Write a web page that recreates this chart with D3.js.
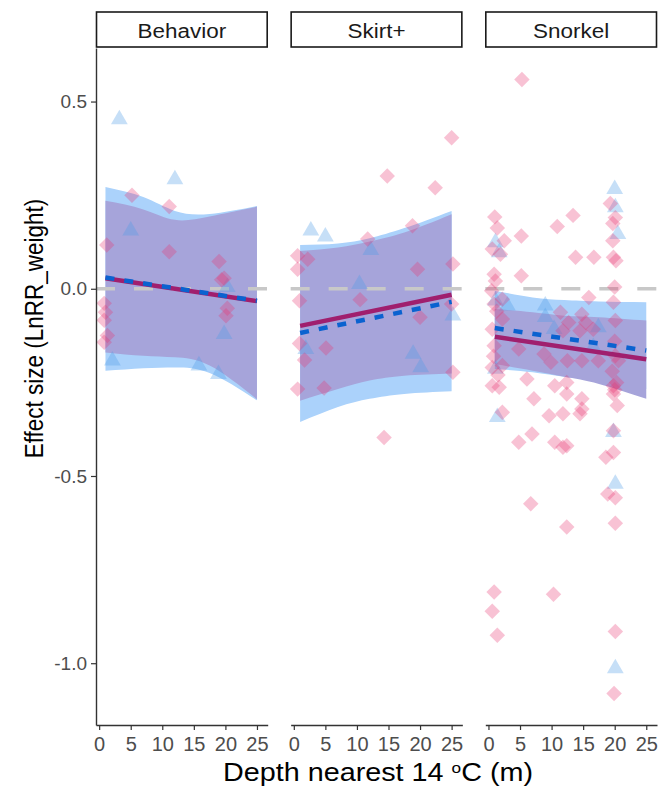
<!DOCTYPE html>
<html>
<head>
<meta charset="utf-8">
<script src="https://cdn.jsdelivr.net/npm/d3@7"></script>
<style>
    body { margin: 0; background: #fff; font-family: "Liberation Sans", Arial, sans-serif; }
</style>
</head>
<body>
<div id="container"><svg></svg></div>
<script>
// facets and ticks
const panels = ['Behavior', 'Skirt+', 'Snorkel'];
const xTicks = [0, 5, 10, 15, 20, 25];
const yTicks = [0.5, 0.0, -0.5, -1.0];

// pink diamonds [depth, effect]
const diamondsBehavior = [[5.2, 0.25], [11.1, 0.22], [1.2, 0.117], [11.1, 0.099], [19.0, 0.073], [19.8, 0.028],
    [19.4, 0.024], [0.8, -0.039], [1.0, -0.063], [0.8, -0.084], [20.3, -0.052], [20.1, -0.072], [1.3, -0.125], [0.8, -0.143]];
const diamondsSkirt = [[14.8, 0.301], [22.4, 0.27], [25.0, 0.403], [18.8, 0.168], [11.7, 0.133], [0.6, 0.088], [2.2, 0.079],
    [0.6, 0.052], [19.6, 0.052], [25.2, 0.066], [0.9, -0.032], [10.5, -0.029], [25.0, -0.041], [20.0, -0.076], [0.9, -0.146],
    [5.1, -0.158], [1.7, -0.19], [25.2, -0.223], [0.6, -0.268], [4.8, -0.265], [14.3, -0.397]];
const diamondsSnorkel = [[5.3, 0.559], [19.3, 0.228], [20.1, 0.19], [19.7, 0.174], [1.0, 0.192], [1.4, 0.162], [5.2, 0.141],
    [10.9, 0.166], [13.4, 0.196], [2.5, 0.128], [19.7, 0.128], [0.6, 0.106], [1.9, 0.092], [13.8, 0.084], [16.7, 0.084],
    [19.8, 0.084], [20.2, 0.075], [0.9, 0.039], [1.1, 0.021], [5.2, 0.035], [15.9, -0.023], [20.0, 0.005], [19.8, -0.036],
    [0.9, -0.041], [2.2, -0.028], [11.4, -0.063], [14.8, -0.068], [0.6, -0.108], [2.2, -0.081], [12.7, -0.09], [15.4, -0.09],
    [20.1, -0.085], [11.8, -0.112], [14.5, -0.112], [16.6, -0.108], [0.9, -0.152], [4.8, -0.161], [8.8, -0.174], [9.9, -0.196],
    [20.1, -0.179], [20.6, -0.192], [12.5, -0.192], [14.8, -0.192], [17.4, -0.192], [0.6, -0.21], [2.2, -0.205], [6.1, -0.241],
    [0.6, -0.259], [1.7, -0.263], [10.5, -0.259], [12.4, -0.281], [12.4, -0.25], [19.8, -0.259], [19.8, -0.281], [20.4, -0.312],
    [7.2, -0.294], [14.8, -0.294], [2.2, -0.33], [9.6, -0.339], [11.8, -0.334], [14.5, -0.334], [14.8, -0.321], [6.9, -0.388],
    [4.8, -0.41], [10.5, -0.41], [12.4, -0.419], [19.8, -0.379], [11.8, -0.423], [18.6, -0.45], [19.8, -0.437], [18.9, -0.548],
    [20.1, -0.558], [6.7, -0.574], [20.1, -0.626], [12.4, -0.636], [0.9, -0.81], [10.3, -0.816], [0.6, -0.861], [1.4, -0.925],
    [20.1, -0.915], [19.9, -1.081], [20.0, -0.14], [19.6, -0.22], [20.3, -0.25], [20.0, -0.27], [1.3, -0.06], [0.8, -0.18],
    [1.5, -0.23], [0.5, -0.005]];

// blue triangles [depth, effect]
const trianglesBehavior = [[3.2, 0.452], [12.0, 0.292], [5.0, 0.155], [20.3, 0.004], [19.8, -0.121], [2.1, -0.192],
    [15.8, -0.205], [18.9, -0.228]];
const trianglesSkirt = [[2.7, 0.155], [5.0, 0.139], [12.2, 0.103], [10.4, 0.012], [25.2, -0.072], [1.9, -0.161],
    [18.9, -0.174], [20.1, -0.21]];
const trianglesSnorkel = [[20.0, 0.266], [20.1, 0.217], [20.5, 0.146], [1.1, 0.124], [1.7, 0.097], [1.1, -0.032],
    [3.0, -0.045], [9.0, -0.045], [9.0, -0.076], [10.4, -0.108], [17.4, -0.103], [16.6, -0.156], [1.1, -0.214],
    [1.4, -0.343], [19.8, -0.383], [20.1, -0.521], [20.1, -1.014]];

// confidence bands read at these depths
const bandX = [1, 7, 12, 17.5, 25];
const blueHiBehavior = [0.272, 0.245, 0.208, 0.200, 0.221];
const blueLoBehavior = [-0.219, -0.212, -0.210, -0.225, -0.298];
const purpleHiBehavior = [0.235, 0.212, 0.184, 0.193, 0.219];
const purpleLoBehavior = [-0.170, -0.179, -0.183, -0.205, -0.295];

const blueHiSkirt = [0.117, 0.121, 0.135, 0.162, 0.208];
const blueLoSkirt = [-0.356, -0.316, -0.294, -0.281, -0.274];
const purpleHiSkirt = [0.101, 0.110, 0.126, 0.150, 0.199];
const purpleLoSkirt = [-0.299, -0.268, -0.245, -0.232, -0.226];

const blueHiSnorkel = [-0.005, -0.023, -0.030, -0.034, -0.036];
const blueLoSnorkel = [-0.214, -0.223, -0.235, -0.245, -0.268];
const purpleHiSnorkel = [-0.054, -0.063, -0.072, -0.076, -0.085];
const purpleLoSnorkel = [-0.201, -0.219, -0.235, -0.254, -0.294];

// fitted lines, start and end
const lineX = [1, 25];
const solidBehavior = [0.028, -0.033];
const dashedBehavior = [0.030, -0.032];
const solidSkirt = [-0.099, -0.016];
const dashedSkirt = [-0.118, -0.035];
const solidSnorkel = [-0.128, -0.188];
const dashedSnorkel = [-0.105, -0.165];

let facets = {
    'Behavior': { d: diamondsBehavior, t: trianglesBehavior, bh: blueHiBehavior, bl: blueLoBehavior, ph: purpleHiBehavior, pl: purpleLoBehavior, s: solidBehavior, ds: dashedBehavior },
    'Skirt+': { d: diamondsSkirt, t: trianglesSkirt, bh: blueHiSkirt, bl: blueLoSkirt, ph: purpleHiSkirt, pl: purpleLoSkirt, s: solidSkirt, ds: dashedSkirt },
    'Snorkel': { d: diamondsSnorkel, t: trianglesSnorkel, bh: blueHiSnorkel, bl: blueLoSnorkel, ph: purpleHiSnorkel, pl: purpleLoSnorkel, s: solidSnorkel, ds: dashedSnorkel }
};

let width = 671, height = 787;
let plotLeft = 96, plotRight = 657, plotTop = 48, plotBottom = 725, stripTop = 12;

let svg = d3.select('#container').select('svg')
    .attr('width', width)
    .attr('height', height);

let fx = d3.scaleBand()
    .domain(panels)
    .range([plotLeft, plotRight])
    .paddingInner(23 / (172 + 23));
let bw = fx.bandwidth();

let x = d3.scaleLinear().domain([-0.5, 26.7]).range([0, bw]);
let y = d3.scaleLinear().domain([-1.165, 0.643]).range([plotBottom, plotTop]);

let diamond = d3.symbol().type(d3.symbolSquare).size(120)();
let triangle = d3.symbol().type(d3.symbolTriangle).size(122)();

panels.forEach(p => {
    let f = facets[p];
    let g = svg.append('g').attr('transform', `translate(${fx(p)},0)`);

    let band = (hi, lo) => d3.area()
        .x((d, i) => x(bandX[i]))
        .y0((d, i) => y(lo[i]))
        .y1((d, i) => y(hi[i]))
        .curve(d3.curveNatural)(bandX);

    g.append('path').attr('d', band(f.bh, f.bl)).attr('fill', '#abd2fb');
    g.append('path').attr('d', band(f.ph, f.pl)).attr('fill', '#a6a4da');

    // zero reference
    g.append('line')
        .attr('x1', 0).attr('x2', bw)
        .attr('y1', y(0)).attr('y2', y(0))
        .attr('stroke', '#c8c8c8')
        .attr('stroke-width', 3.5)
        .attr('stroke-dasharray', '19,19');

    g.append('g').selectAll('path')
        .data(f.t)
        .enter().append('path')
        .attr('d', triangle)
        .attr('transform', d => `translate(${x(d[0])},${y(d[1])})`)
        .attr('fill', '#4d9be6')
        .attr('fill-opacity', 0.32);

    g.append('g').selectAll('path')
        .data(f.d)
        .enter().append('path')
        .attr('d', diamond)
        .attr('transform', d => `translate(${x(d[0])},${y(d[1])}) rotate(45)`)
        .attr('fill', '#e8346f')
        .attr('fill-opacity', 0.3);

    let line = d3.line().x((d, i) => x(lineX[i])).y(d => y(d));
    g.append('path')
        .attr('d', line(f.s))
        .attr('fill', 'none')
        .attr('stroke', '#a01f6e')
        .attr('stroke-width', 4.5);
    g.append('path')
        .attr('d', line(f.ds))
        .attr('fill', 'none')
        .attr('stroke', '#0a62d0')
        .attr('stroke-width', 4.5)
        .attr('stroke-dasharray', '9,10');

    // x axis
    let ax = g.append('g')
        .attr('transform', `translate(0,${plotBottom})`)
        .call(d3.axisBottom(x).tickValues(xTicks).tickSize(5).tickSizeOuter(0));
    ax.select('.domain').attr('stroke', '#333').attr('stroke-width', 1.4);
    ax.selectAll('line').attr('stroke', '#333').attr('stroke-width', 1.2);
    ax.selectAll('text')
        .attr('font-family', '"Liberation Sans", Arial, sans-serif')
        .attr('font-size', 20)
        .attr('fill', '#4d4d4d')
        .attr('dy', '0.9em');

    // strip
    g.append('rect')
        .attr('x', 0.5).attr('y', stripTop)
        .attr('width', bw - 1).attr('height', plotTop - stripTop - 1)
        .attr('fill', '#fff')
        .attr('stroke', '#1a1a1a')
        .attr('stroke-width', 1.6);
    g.append('text')
        .attr('transform', `translate(${bw / 2},${(stripTop + plotTop) / 2}) scale(1.07,1)`)
        .attr('dy', '0.36em')
        .attr('text-anchor', 'middle')
        .attr('font-size', 21)
        .attr('fill', '#1a1a1a')
        .text(p);
});

// y axis
let ay = svg.append('g')
    .attr('transform', `translate(${plotLeft},0)`)
    .call(d3.axisLeft(y).tickValues(yTicks).tickFormat(d => d.toFixed(1)).tickSize(5).tickSizeOuter(0));
ay.select('.domain').attr('stroke', '#333').attr('stroke-width', 1.4);
ay.selectAll('line').attr('stroke', '#333').attr('stroke-width', 1.2);
ay.selectAll('text')
    .attr('font-family', '"Liberation Sans", Arial, sans-serif')
    .attr('font-size', 19)
    .attr('fill', '#4d4d4d')
    .attr('x', -9);

// axis titles
svg.append('text')
    .attr('transform', `translate(43,${(plotTop + plotBottom) / 2 - 58}) scale(1.15,1) rotate(-90)`)
    .attr('text-anchor', 'middle')
    .attr('font-size', 22.5)
    .attr('fill', '#000')
    .text('Effect size (LnRR_weight)');

let xt = svg.append('text')
    .attr('transform', 'translate(378,781) scale(1.15,1)')
    .attr('text-anchor', 'middle')
    .attr('font-size', 25)
    .attr('fill', '#000');
xt.append('tspan').text('Depth nearest 14 ');
xt.append('tspan').attr('font-size', 15).attr('dy', -8).text('o');
xt.append('tspan').attr('dy', 8).text('C (m)');
</script>
</body>
</html>
